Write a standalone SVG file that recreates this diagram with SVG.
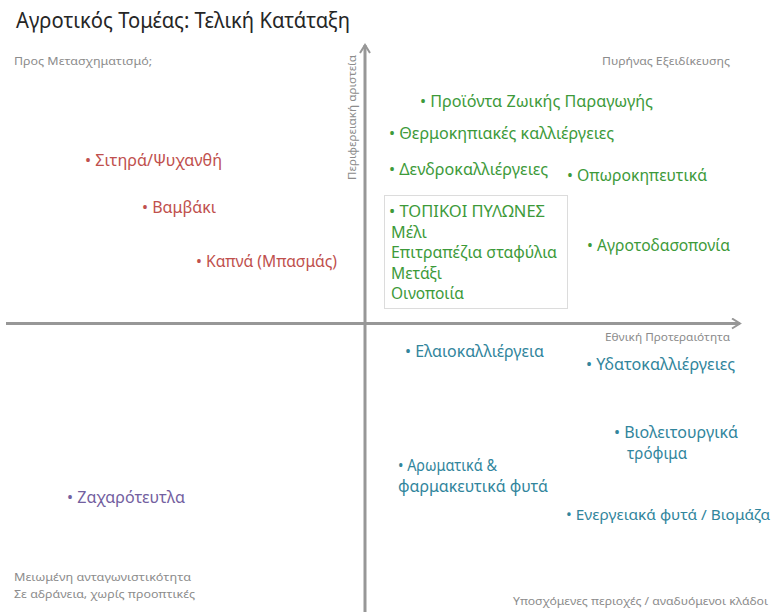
<svg xmlns="http://www.w3.org/2000/svg" width="776" height="612" viewBox="0 0 776 612">
<style>
text{font-family:"Noto Sans","Open Sans","DejaVu Sans",sans-serif}
.title{font-size:21.5px;fill:#262626}
.corner{font-size:11.5px;fill:#8c8c8c}
.axl{font-size:11px;fill:#8c8c8c}
.it{font-size:16.5px}
.bx{font-size:15.5px}
.g{fill:#3d9a3a}
.r{fill:#c0504d}
.b{fill:#31859c}
.p{fill:#7360a0}
.axis{stroke:#979797;stroke-width:3;fill:none}
</style>
<defs>
<marker id="arr" viewBox="0 0 12 12" refX="10" refY="6" markerWidth="12" markerHeight="12" markerUnits="userSpaceOnUse" orient="auto">
<path d="M2,1 L10,6 L2,11" fill="none" stroke="#979797" stroke-width="2"/>
</marker>
</defs>
<rect width="776" height="612" fill="#ffffff"/>
<text class="title" x="16" y="28" textLength="334" lengthAdjust="spacingAndGlyphs">Αγροτικός Τομέας: Τελική Κατάταξη</text>
<g id="connectors">
<line class="axis" x1="6" y1="323.5" x2="740" y2="323.5" marker-end="url(#arr)"/>
<line class="axis" x1="365" y1="612" x2="365" y2="45" marker-end="url(#arr)"/>
</g>
<g id="corner-labels">
<text class="corner" x="14" y="65" textLength="138" lengthAdjust="spacingAndGlyphs">Προς Μετασχηματισμό;</text>
<text class="corner" x="602" y="65" textLength="128" lengthAdjust="spacingAndGlyphs">Πυρήνας Εξειδίκευσης</text>
<text class="corner" x="14" y="581" textLength="177" lengthAdjust="spacingAndGlyphs">Μειωμένη ανταγωνιστικότητα</text>
<text class="corner" x="14" y="598" textLength="181" lengthAdjust="spacingAndGlyphs">Σε αδράνεια, χωρίς προοπτικές</text>
<text class="corner" x="513" y="605" textLength="255" lengthAdjust="spacingAndGlyphs">Υποσχόμενες περιοχές / αναδυόμενοι κλάδοι</text>
</g>
<g id="axis-labels">
<text class="axl" x="605" y="341" textLength="125" lengthAdjust="spacingAndGlyphs">Εθνική Προτεραιότητα</text>
<text class="axl" transform="translate(356,180) rotate(-90)" x="0" y="0" textLength="125" lengthAdjust="spacingAndGlyphs">Περιφερειακή αριστεία</text>
</g>
<g id="node-zoiki"><text class="it g" x="420" y="107" textLength="233" lengthAdjust="spacingAndGlyphs">•  Προϊόντα Ζωικής Παραγωγής</text></g>
<g id="node-thermokipiakes"><text class="it g" x="389" y="139" textLength="225" lengthAdjust="spacingAndGlyphs">• Θερμοκηπιακές καλλιέργειες</text></g>
<g id="node-dendro"><text class="it g" x="389" y="175" textLength="159" lengthAdjust="spacingAndGlyphs">• Δενδροκαλλιέργειες</text></g>
<g id="node-oporo"><text class="it g" x="567" y="181" textLength="140" lengthAdjust="spacingAndGlyphs">• Οπωροκηπευτικά</text></g>
<g id="node-topikoi">
<rect x="384.5" y="195.5" width="183" height="113" fill="#ffffff" stroke="#dcdcdc" stroke-width="1"/>
<text class="bx g" x="389" y="217" textLength="156" lengthAdjust="spacingAndGlyphs">• ΤΟΠΙΚΟΙ ΠΥΛΩΝΕΣ</text>
<text class="bx g" x="391" y="237.5" textLength="36" lengthAdjust="spacingAndGlyphs">Μέλι</text>
<text class="bx g" x="391" y="258" textLength="166" lengthAdjust="spacingAndGlyphs">Επιτραπέζια σταφύλια</text>
<text class="bx g" x="391" y="278.5" textLength="51" lengthAdjust="spacingAndGlyphs">Μετάξι</text>
<text class="bx g" x="391" y="299" textLength="73" lengthAdjust="spacingAndGlyphs">Οινοποιία</text>
</g>
<g id="node-agrotodaso"><text class="it g" x="587" y="251" textLength="143" lengthAdjust="spacingAndGlyphs">• Αγροτοδασοπονία</text></g>
<g id="node-sitira"><text class="it r" x="85" y="166" textLength="137" lengthAdjust="spacingAndGlyphs">• Σιτηρά/Ψυχανθή</text></g>
<g id="node-vamvaki"><text class="it r" x="142" y="213" textLength="74" lengthAdjust="spacingAndGlyphs">• Βαμβάκι</text></g>
<g id="node-kapna"><text class="it r" x="196" y="267" textLength="141" lengthAdjust="spacingAndGlyphs">• Καπνά (Μπασμάς)</text></g>
<g id="node-elaio"><text class="it b" x="405" y="357" textLength="139" lengthAdjust="spacingAndGlyphs">• Ελαιοκαλλιέργεια</text></g>
<g id="node-ydato"><text class="it b" x="586" y="370" textLength="149" lengthAdjust="spacingAndGlyphs">• Υδατοκαλλιέργειες</text></g>
<g id="node-violeit">
<text class="it b" x="614" y="438" textLength="124" lengthAdjust="spacingAndGlyphs">• Βιολειτουργικά</text>
<text class="it b" x="627" y="459" textLength="60" lengthAdjust="spacingAndGlyphs">τρόφιμα</text>
</g>
<g id="node-aromatika">
<text class="it b" x="398" y="471" textLength="99" lengthAdjust="spacingAndGlyphs">• Αρωματικά &amp;</text>
<text class="it b" x="398" y="492" textLength="150" lengthAdjust="spacingAndGlyphs">φαρμακευτικά φυτά</text>
</g>
<g id="node-energeiaka"><text class="b" style="font-size:15px" x="566" y="520" textLength="204" lengthAdjust="spacingAndGlyphs">• Ενεργειακά φυτά / Βιομάζα</text></g>
<g id="node-zaxaro"><text class="it p" x="67" y="503" textLength="118" lengthAdjust="spacingAndGlyphs">• Ζαχαρότευτλα</text></g>
</svg>
